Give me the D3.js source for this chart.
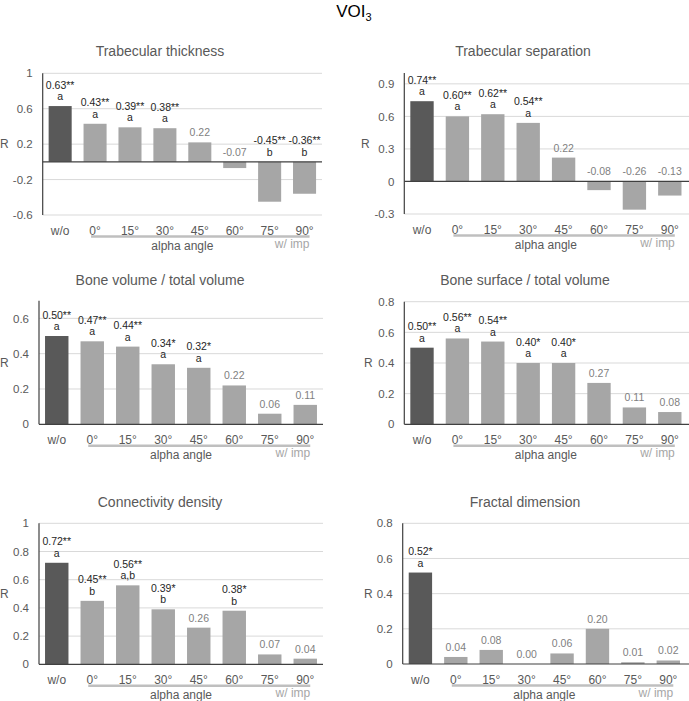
<!DOCTYPE html>
<html><head><meta charset="utf-8">
<script src="https://cdn.jsdelivr.net/npm/d3@7"></script>
<style>body{margin:0;background:#fff} svg{display:block;font-family:"Liberation Sans",Arial,sans-serif}</style>
</head><body><svg id="c" width="689" height="701"></svg>
<script>
const categories = ["w/o","0°","15°","30°","45°","60°","75°","90°"];
const panelTitles = ["Trabecular thickness","Trabecular separation","Bone volume / total volume","Bone surface / total volume","Connectivity density","Fractal dimension"];

const thicknessValues = [0.63,0.43,0.39,0.38,0.22,-0.07,-0.45,-0.36];
const thicknessStars = ["**","**","**","**","","","**","**"];
const thicknessLetters = ["a","a","a","a","","","b","b"];
const thicknessTicks = [-0.6,-0.2,0.2,0.6,1];
const thicknessDomain = [-0.6,1];

const separationValues = [0.74,0.60,0.62,0.54,0.22,-0.08,-0.26,-0.13];
const separationStars = ["**","**","**","**","","","",""];
const separationLetters = ["a","a","a","a","","","",""];
const separationTicks = [-0.3,0,0.3,0.6,0.9];
const separationDomain = [-0.3,1.0];

const bvtvValues = [0.50,0.47,0.44,0.34,0.32,0.22,0.06,0.11];
const bvtvStars = ["**","**","**","*","*","","",""];
const bvtvLetters = ["a","a","a","a","a","","",""];
const bvtvTicks = [0,0.2,0.4,0.6];
const bvtvDomain = [0,0.7];

const bstvValues = [0.50,0.56,0.54,0.40,0.40,0.27,0.11,0.08];
const bstvStars = ["**","**","**","*","*","","",""];
const bstvLetters = ["a","a","a","a","a","","",""];
const bstvTicks = [0,0.2,0.4,0.6,0.8];
const bstvDomain = [0,0.8];

const connValues = [0.72,0.45,0.56,0.39,0.26,0.38,0.07,0.04];
const connStars = ["**","**","**","*","","*","",""];
const connLetters = ["a","b","a,b","b","","b","",""];
const connTicks = [0,0.2,0.4,0.6,0.8,1];
const connDomain = [0,1];

const fractalValues = [0.52,0.04,0.08,0.00,0.06,0.20,0.01,0.02];
const fractalStars = ["*","","","","","","",""];
const fractalLetters = ["a","","","","","","",""];
const fractalTicks = [0,0.2,0.4,0.6,0.8];
const fractalDomain = [0,0.8];

const panelData = [
  {values: thicknessValues, stars: thicknessStars, letters: thicknessLetters, ticks: thicknessTicks, domain: thicknessDomain},
  {values: separationValues, stars: separationStars, letters: separationLetters, ticks: separationTicks, domain: separationDomain},
  {values: bvtvValues, stars: bvtvStars, letters: bvtvLetters, ticks: bvtvTicks, domain: bvtvDomain},
  {values: bstvValues, stars: bstvStars, letters: bstvLetters, ticks: bstvTicks, domain: bstvDomain},
  {values: connValues, stars: connStars, letters: connLetters, ticks: connTicks, domain: connDomain},
  {values: fractalValues, stars: fractalStars, letters: fractalLetters, ticks: fractalTicks, domain: fractalDomain}
];

const layout = [
  {l:42.7, r:322,   t:73.3,  b:215,   gr:322, tx:160, ty:56,  rx:0},
  {l:404.3,r:687.5, t:73,    b:214,   gr:689, tx:523, ty:56,  rx:361},
  {l:39,   r:323,   t:300.7, b:424.3, gr:323, tx:160, ty:285, rx:0},
  {l:404.3,r:687.5, t:301.7, b:424.3, gr:689, tx:525, ty:285, rx:364},
  {l:39,   r:323,   t:523.3, b:664.3, gr:323, tx:160, ty:507, rx:0},
  {l:402.7,r:686,   t:523.3, b:664,   gr:689, tx:525, ty:507, rx:364}
];

const svg = d3.select("#c");
const fmtTick = d => (d < 0 ? "-" : "") + String(+Math.abs(d).toFixed(1));
const fmtVal = d => (d < 0 ? "-" : "") + Math.abs(d).toFixed(2);

// main title
const mt = svg.append("text").attr("x", 354).attr("y", 17).attr("text-anchor", "middle")
  .attr("font-size", 17).attr("fill", "#000");
mt.append("tspan").text("VOI");
mt.append("tspan").attr("font-size", 11).attr("dy", 4).text("3");

panelData.forEach((pd, i) => {
  const L = layout[i];
  const g = svg.append("g");
  const x = d3.scaleBand().domain(categories).range([L.l, L.r]).paddingInner(0.34).paddingOuter(0.17);
  const y = d3.scaleLinear().domain(pd.domain).range([L.b, L.t]);

  // title
  g.append("text").attr("x", L.tx).attr("y", L.ty).attr("text-anchor", "middle")
    .attr("font-size", 14).attr("fill", "#595959").text(panelTitles[i]);

  // gridlines
  g.selectAll(".grid").data(pd.ticks.filter(t => t !== 0)).join("line")
    .attr("x1", L.l).attr("x2", L.gr).attr("y1", d => y(d)).attr("y2", d => y(d))
    .attr("stroke", "#d9d9d9").attr("stroke-width", 1);

  // y axis ticks
  const ya = g.append("g").attr("transform", `translate(${L.l},0)`)
    .call(d3.axisLeft(y).tickValues(pd.ticks).tickSize(0).tickPadding(10).tickFormat(fmtTick));
  ya.select(".domain").remove();
  ya.selectAll("text").attr("font-size", 11.5).attr("fill", "#595959").attr("font-family", "Liberation Sans, Arial, sans-serif");

  // bars
  g.selectAll(".bar").data(pd.values).join("rect")
    .attr("x", (d, j) => x(categories[j]))
    .attr("width", x.bandwidth())
    .attr("y", d => y(Math.max(d, 0)))
    .attr("height", d => Math.abs(y(d) - y(0)))
    .attr("fill", (d, j) => j === 0 ? "#595959" : "#a6a6a6");

  // zero line and y axis line
  g.append("line").attr("x1", L.l).attr("x2", L.gr).attr("y1", y(0)).attr("y2", y(0))
    .attr("stroke", "#404040").attr("stroke-width", 1.2);
  g.append("line").attr("x1", L.l).attr("x2", L.l).attr("y1", L.t).attr("y2", L.b)
    .attr("stroke", "#404040").attr("stroke-width", 1.2);

  // value labels
  pd.values.forEach((v, j) => {
    const cx = x(categories[j]) + x.bandwidth() / 2;
    const base = y(Math.max(v, 0));
    const sig = pd.stars[j] !== "";
    const col = sig ? "#262626" : "#7f7f7f";
    const hasLetter = pd.letters[j] !== "";
    g.append("text").attr("x", cx).attr("y", hasLetter ? base - 17.5 : base - 6)
      .attr("text-anchor", "middle").attr("font-size", 10.5).attr("fill", col)
      .text(fmtVal(v) + pd.stars[j]);
    if (hasLetter) {
      g.append("text").attr("x", cx).attr("y", base - 6)
        .attr("text-anchor", "middle").attr("font-size", 10.5).attr("fill", col)
        .text(pd.letters[j]);
    }
  });

  // category labels
  const xa = g.append("g").attr("transform", `translate(0,${L.b})`)
    .call(d3.axisBottom(x).tickSize(0).tickPadding(11));
  xa.select(".domain").remove();
  xa.selectAll("text").attr("font-size", 12).attr("fill", "#595959").attr("font-family", "Liberation Sans, Arial, sans-serif");

  // w/ imp underline
  const c0 = x(categories[1]) + x.bandwidth() / 2;
  const c75 = x(categories[6]) + x.bandwidth() / 2;
  const c90 = x(categories[7]) + x.bandwidth() / 2;
  const ux1 = c0 - 4, ux2 = c90 + 5;
  g.append("line").attr("x1", ux1).attr("x2", ux2).attr("y1", L.b + 21.5).attr("y2", L.b + 21.5)
    .attr("stroke", "#bfbfbf").attr("stroke-width", 2.5);
  g.append("text").attr("x", (c0 + c75) / 2).attr("y", L.b + 35).attr("text-anchor", "middle")
    .attr("font-size", 12).attr("fill", "#595959").text("alpha angle");
  g.append("text").attr("x", ux2).attr("y", L.b + 33).attr("text-anchor", "end")
    .attr("font-size", 12).attr("fill", "#a6a6a6").text("w/ imp");

  // R label
  g.append("text").attr("x", L.rx).attr("y", (L.t + L.b) / 2 + 4).attr("font-size", 12)
    .attr("fill", "#595959").text("R");
});
</script></body></html>
